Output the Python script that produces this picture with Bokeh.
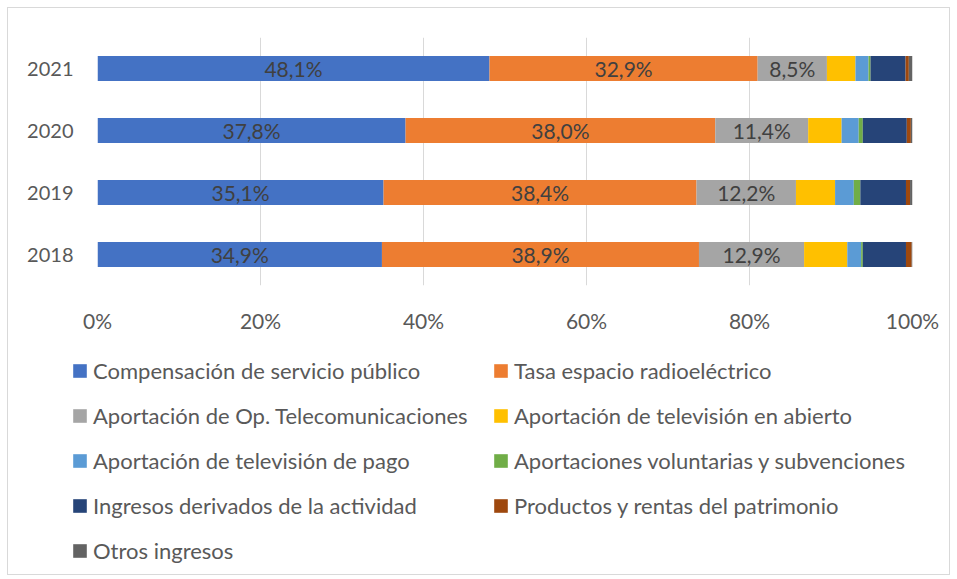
from bokeh.plotting import figure
from bokeh.layouts import column
from bokeh.models import (ColumnDataSource, FixedTicker, LabelSet, Range1d, FactorRange,
                          Legend, LegendItem)
from bokeh.core.properties import value
from bokeh.embed import file_html
from bokeh.resources import INLINE

years = ["2018", "2019", "2020", "2021"]
compensacion = [34.9, 35.1, 37.8, 48.1]
tasa = [38.9, 38.4, 38.0, 32.9]
operadores = [12.9, 12.2, 11.4, 8.5]
tv_abierto = [5.3, 4.8, 4.1, 3.5]
tv_pago = [1.7, 2.3, 2.1, 1.6]
voluntarias = [0.2, 0.8, 0.5, 0.25]
actividad = [5.3, 5.6, 5.4, 4.3]
patrimonio = [0.7, 0.5, 0.5, 0.4]
otros = [0.1, 0.3, 0.2, 0.45]

series_keys = ["compensacion", "tasa", "operadores", "tv_abierto", "tv_pago",
               "voluntarias", "actividad", "patrimonio", "otros"]
series_labels = [
    "Compensación de servicio público",
    "Tasa espacio radioeléctrico",
    "Aportación de Op. Telecomunicaciones",
    "Aportación de televisión en abierto",
    "Aportación de televisión de pago",
    "Aportaciones voluntarias y subvenciones",
    "Ingresos derivados de la actividad",
    "Productos y rentas del patrimonio",
    "Otros ingresos",
]
colors = ["#4472C4", "#ED7D31", "#A5A5A5", "#FFC000", "#5B9BD5",
          "#70AD47", "#264478", "#9E480E", "#636363"]
x_ticks = [0, 20, 40, 60, 80, 100]
x_tick_labels = ["0%", "20%", "40%", "60%", "80%", "100%"]
labelled_series = 3  # data labels shown on the first three series

FONT = "Lato"
TXT = "#595959"

data = dict(year=years, compensacion=compensacion, tasa=tasa, operadores=operadores,
            tv_abierto=tv_abierto, tv_pago=tv_pago, voluntarias=voluntarias,
            actividad=actividad, patrimonio=patrimonio, otros=otros)
source = ColumnDataSource(data)

# ---- main chart ----
p = figure(width=941, height=336, y_range=FactorRange(*years, range_padding=0),
           x_range=Range1d(0, 100), output_backend="svg", toolbar_location=None,
           min_border_left=89, min_border_right=37, min_border_top=29,
           min_border_bottom=59)
p.outline_line_color = None
p.frame_align = False

p.hbar_stack(series_keys, y="year", height=0.4, source=source,
             color=colors, line_color=None)

lx, ly, lt = [], [], []
for i, y in enumerate(years):
    cum = 0.0
    for k in range(labelled_series):
        v = data[series_keys[k]][i]
        lx.append(cum + v / 2.0)
        ly.append(y)
        lt.append(f"{v:.1f}".replace(".", ",") + "%")
        cum += v
lsrc = ColumnDataSource(dict(x=lx, y=ly, t=lt))
p.add_layout(LabelSet(x="x", y="y", text="t", source=lsrc, text_align="center",
                      text_baseline="middle", text_color="#404040",
                      text_font=value(FONT), text_font_size="21px"))

p.xaxis.ticker = FixedTicker(ticks=x_ticks)
p.xaxis.major_label_overrides = {t: l for t, l in zip(x_ticks, x_tick_labels)}
for ax in (p.xaxis[0], p.yaxis[0]):
    ax.axis_line_color = None
    ax.major_tick_line_color = None
    ax.minor_tick_line_color = None
    ax.major_tick_out = 0
    ax.major_tick_in = 0
    ax.major_label_text_font = FONT
    ax.major_label_text_font_size = "20px"
    ax.major_label_text_color = TXT
p.xaxis.major_label_text_font_size = "21px"
p.xaxis.major_label_standoff = 22
p.yaxis.major_label_standoff = 24
p.xgrid.grid_line_color = "#d9d9d9"
p.xgrid.grid_line_width = 1
p.ygrid.grid_line_color = None

# ---- legend panel (same series, drawn out of view so only the legend shows) ----
pl = figure(width=941, height=230, y_range=FactorRange(*years),
            x_range=Range1d(-20, -10), output_backend="svg", toolbar_location=None,
            x_axis_location=None, y_axis_location=None,
            min_border_left=0, min_border_right=0, min_border_top=0, min_border_bottom=0)
pl.outline_line_color = None
pl.grid.grid_line_color = None
pl.frame_align = False
lrend = pl.hbar_stack(series_keys, y="year", height=0.4, source=source,
                      color=colors, line_color=None)
items = [LegendItem(label=l, renderers=[r]) for l, r in zip(series_labels, lrend)]
legend = Legend(items=items, location=(63, 10), orientation="horizontal", ncols=2,
                glyph_width=17, glyph_height=17, label_height=24, label_width=381,
                label_standoff=5, spacing=18, padding=0, margin=0,
                border_line_color=None, background_fill_alpha=0,
                label_text_font=FONT, label_text_font_size="22px",
                label_text_color=TXT)
pl.add_layout(legend, "center")

layout = column(p, pl, spacing=0)
layout.styles = {"border": "1px solid #d9d9d9", "margin-left": "7px", "margin-top": "7px"}

open("out.html", "w").write(file_html(layout, INLINE))
